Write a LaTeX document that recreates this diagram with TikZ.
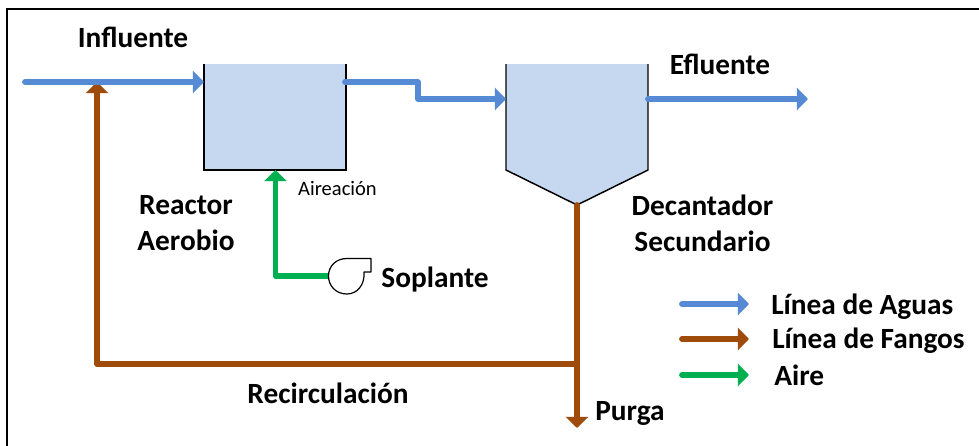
\documentclass[tikz,border=0pt]{standalone}
\usepackage{fontspec}
\setmainfont{Carlito}
\usetikzlibrary{arrows.meta}
\definecolor{agua}{RGB}{86,138,212}
\definecolor{fango}{RGB}{158,75,12}
\definecolor{aire}{RGB}{0,176,80}
\definecolor{tanque}{RGB}{198,215,240}
\tikzset{
  x=0.75pt,y=-0.75pt,
  flow/.style={line width=4.3pt,line join=round,line cap=round,-{Triangle[length=8.3pt,width=16.5pt]}},
  aguas/.style={flow,draw=agua},
  fangos/.style={flow,draw=fango},
  airef/.style={flow,draw=aire},
  lbl/.style={font=\bfseries\fontsize{22}{27}\selectfont,inner sep=0pt,text=black},
  wall/.style={draw=black,line width=1.1pt,line join=miter},
}
\begin{document}
\begin{tikzpicture}
\useasboundingbox (0,0) rectangle (979,446);
\draw[black,line width=1.6pt] (7,446) -- (7,9) -- (979,9);
% tanks
\fill[tanque] (204,64) rectangle (346,170);
\draw[wall] (204,64) -- (204,170) -- (346,170) -- (346,64);
\fill[tanque] (506,64) -- (648,64) -- (648,170) -- (577,205) -- (506,170) -- cycle;
\draw[wall] (506,64) -- (506,170) -- (577,205) -- (648,170) -- (648,64);
\coordinate (inf0) at (25,82);
\coordinate (infjoin) at (97,82);
\coordinate (reacIn) at (204,82);
\coordinate (reacOut) at (345,82);
\coordinate (decIn) at (506,99);
\coordinate (decOut) at (648,99);
\coordinate (efl) at (808,99);
\coordinate (decBot) at (577,205);
\coordinate (corner) at (97,364);
\coordinate (tee) at (577,364);
\coordinate (purga) at (577,428);
\coordinate (reacBot) at (275.5,170);
\coordinate (blowIn) at (329,276);
% fangos
\draw[fangos] (tee) -- (corner) -- (infjoin);
\draw[fangos] (decBot) -- (purga);
% aguas
\draw[aguas] (inf0) -- (reacIn);
\draw[aguas] (reacOut) -- (418,82) -- (418,99) -- (decIn);
\draw[aguas] (decOut) -- (efl);
% aire
\draw[airef] (blowIn) -- (275.5,276) -- (reacBot);
% blower
\draw[black,line width=0.9pt,fill=white,line join=round]
  (347,258.5) -- (371,258.5) -- (371,272) -- (364,272)
  .. controls (365,285) and (357,294) .. (347,294) .. controls (336,294) and (328.5,286) .. (328.5,276)
  .. controls (328.5,266) and (336,258.5) .. (347,258.5) -- cycle;
% labels
\node[lbl,anchor=base] (tInf) at (133,47) {Influente};
\node[lbl,anchor=base] (tEfl) at (720,74) {Efluente};
\node[lbl,align=center] (tReac) at (186,223) {Reactor\\Aerobio};
\node[lbl,align=center] (tDec) at (702.5,223) {Decantador\\Secundario};
\node[lbl,anchor=base] (tSop) at (435,287) {Soplante};
\node[lbl,anchor=base] (tRec) at (328,403.5) {Recirculación};
\node[lbl,anchor=base] (tPur) at (630,420.5) {Purga};
\node[inner sep=0pt,anchor=base,font=\fontsize{15.4}{18}\selectfont] (tAir) at (337.5,195.5) {Aireación};
% legend
\coordinate (l1a) at (682,304); \coordinate (l1b) at (749,304);
\coordinate (l2a) at (682,339); \coordinate (l2b) at (749,339);
\coordinate (l3a) at (682,375); \coordinate (l3b) at (749,375);
\draw[aguas] (l1a) -- (l1b);
\draw[fangos] (l2a) -- (l2b);
\draw[airef] (l3a) -- (l3b);
\node[lbl,anchor=base west] (k1) at (771,314.5) {Línea de Aguas};
\node[lbl,anchor=base west] (k2) at (772,348.5) {Línea de Fangos};
\node[lbl,anchor=base west] (k3) at (774,385) {Aire};
\end{tikzpicture}
\end{document}
